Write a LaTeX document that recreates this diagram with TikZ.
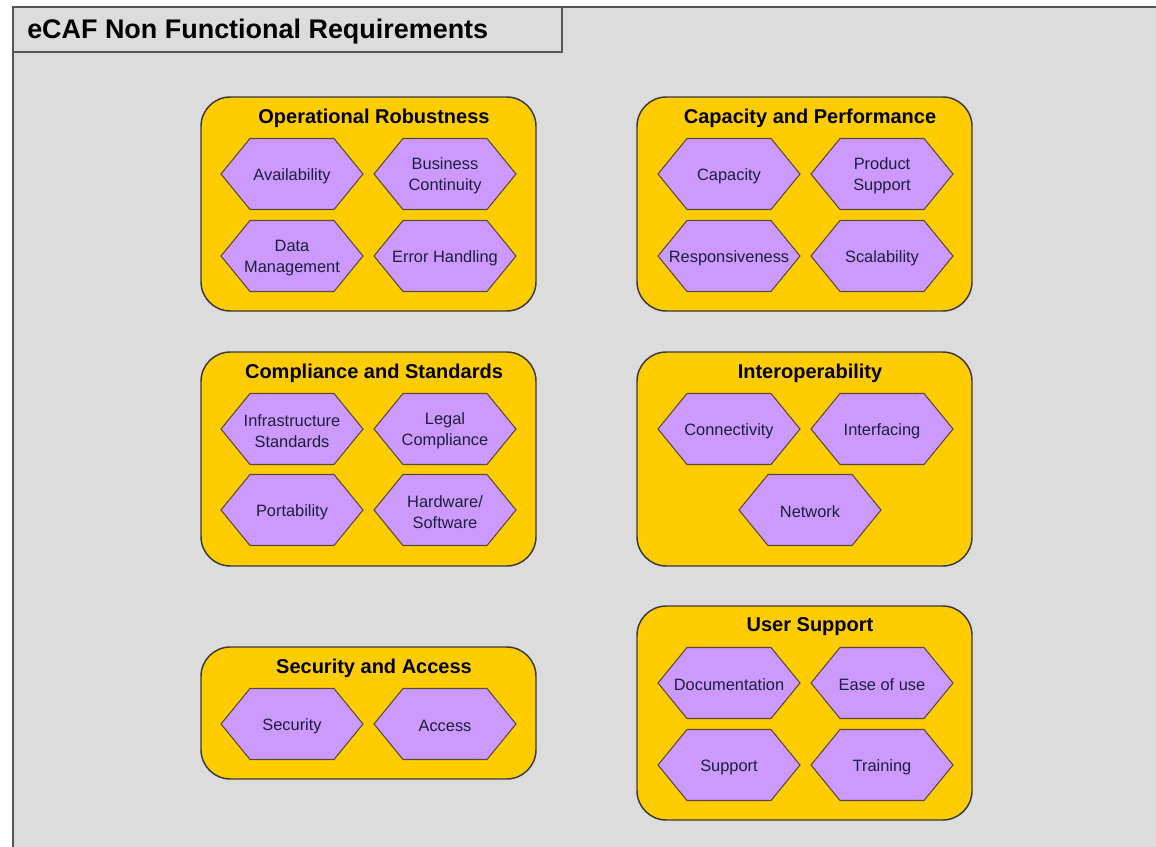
\documentclass[tikz,border=0pt]{standalone}
\usepackage{fontspec}
\setmainfont{Liberation Sans}
\definecolor{bgc}{HTML}{DCDCDC}
\definecolor{framec}{HTML}{555555}
\definecolor{grpfill}{HTML}{FFCC00}
\definecolor{grpline}{HTML}{3A3A3A}
\definecolor{hexfill}{HTML}{CC99FF}
\definecolor{hexline}{HTML}{5A4A3A}
\definecolor{hextxt}{HTML}{1E1E3A}
\tikzset{
  frameline/.style={draw=framec, line width=1.1pt},
  group/.style={draw=grpline, fill=grpfill, line width=1.1pt, rounded corners=22pt},
  gtitle/.style={font=\bfseries\fontsize{15}{18}\selectfont, text=black, inner sep=0pt, yshift=-1.5pt},
  hexshape/.style={draw=hexline, fill=hexfill, line width=0.8pt, line join=miter},
  hextext/.style={font=\fontsize{12.3}{15.75}\selectfont, text=hextxt, align=center, inner sep=0pt, yshift=-1.5pt},
}
\newcommand\hexnode[4]{%
  \filldraw[hexshape] (#2-71,#3) -- (#2-42,#3-35.5) -- (#2+42,#3-35.5) -- (#2+71,#3)
    -- (#2+42,#3+35.5) -- (#2-42,#3+35.5) -- cycle;
  \node[hextext] (#1) at (#2,#3) {#4};}
\begin{document}
\begin{tikzpicture}[x=0.75pt,y=-0.75pt]
\useasboundingbox (0,0) rectangle (1156,846);
\fill[white] (0,0) rectangle (1156,846);
\fill[bgc] (13,7) rectangle (1160,850);
\draw[frameline] (1160,7) -- (13,7) -- (13,850);
\draw[frameline] (13,7) rectangle (562,52);
\node[anchor=west, inner sep=0pt, font=\bfseries\fontsize{20.2}{24}\selectfont] (title) at (27,32) {eCAF Non Functional Requirements};

% Operational Robustness
\draw[group] (201,97) rectangle (536,311);
\node[gtitle] (orT) at (374,116) {Operational Robustness};
\hexnode{avail}{292}{174}{Availability}
\hexnode{busc}{445}{174}{Business\\Continuity}
\hexnode{datam}{292}{256}{Data\\Management}
\hexnode{errh}{445}{256}{Error Handling}

% Capacity and Performance
\draw[group] (637,97) rectangle (972,311);
\node[gtitle] (cpT) at (810,116) {Capacity and Performance};
\hexnode{capa}{729}{174}{Capacity}
\hexnode{prods}{882}{174}{Product\\Support}
\hexnode{resp}{729}{256}{Responsiveness}
\hexnode{scal}{882}{256}{Scalability}

% Compliance and Standards
\draw[group] (201,352) rectangle (536,566);
\node[gtitle] (csT) at (374,371) {Compliance and Standards};
\hexnode{infra}{292}{429}{Infrastructure\\Standards}
\hexnode{legal}{445}{429}{Legal\\Compliance}
\hexnode{port}{292}{510}{Portability}
\hexnode{hwsw}{445}{510}{Hardware/\\Software}

% Interoperability
\draw[group] (637,352) rectangle (972,566);
\node[gtitle] (ioT) at (810,371) {Interoperability};
\hexnode{conn}{729}{429}{Connectivity}
\hexnode{intf}{882}{429}{Interfacing}
\hexnode{netw}{810}{510}{Network}

% Security and Access
\draw[group] (201,647) rectangle (536,779);
\node[gtitle] (saT) at (374,666) {Security and Access};
\hexnode{secu}{292}{724}{Security}
\hexnode{acce}{445}{724}{Access}

% User Support
\draw[group] (637,606) rectangle (972,820);
\node[gtitle] (usT) at (810,625) {User Support};
\hexnode{docu}{729}{683}{Documentation}
\hexnode{ease}{882}{683}{Ease of use}
\hexnode{supp}{729}{765}{Support}
\hexnode{trai}{882}{765}{Training}
\end{tikzpicture}
\end{document}
